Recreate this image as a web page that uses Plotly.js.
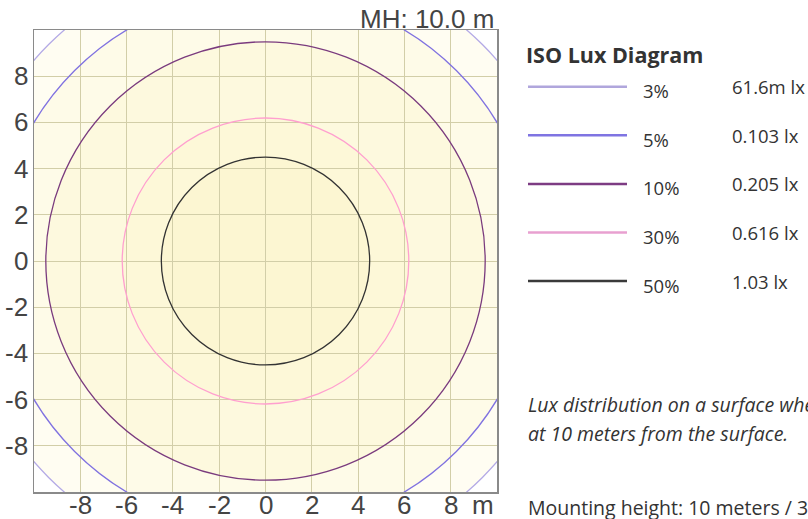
<!DOCTYPE html>
<html>
<head>
<meta charset="utf-8">
<script src="https://cdn.plot.ly/plotly-3.0.1.min.js"></script>
<style>html,body{margin:0;padding:0;background:#fff;}#chart{width:808px;height:519px;}</style>
</head>
<body>
<div id="chart"></div>
<script>
// ---- data ----
const levels = ['3%', '5%', '10%', '30%', '50%'];
const luxValues = ['61.6m lx', '0.103 lx', '0.205 lx', '0.616 lx', '1.03 lx'];
const radii = [13.25, 11.66, 9.49, 6.19, 4.5];          // iso-line radius, metres
const lineColors = ['#b4aae6', '#8072e0', '#7a3b7e', '#ff9fcf', '#333333'];
const legendColors = ['#b0a6dc', '#7f74e2', '#7d3c83', '#e8a0d0', '#3a3a3a'];
const bandColors = ['#fffdf2', '#fefbe8', '#fdf9de', '#fdf8d8', '#fcf6d2'];
const tickVals = [-8, -6, -4, -2, 0, 2, 4, 6, 8];
const tickText = ['-8', '-6', '-4', '-2', '0', '2', '4', '6', '8'];
const mountingHeight = 'MH: 10.0 m';
const unitLabel = 'm';
const legendTitle = 'ISO Lux Diagram';
const noteLines = ['Lux distribution on a surface where the luminaire is placed', 'at 10 meters from the surface.'];
const mountText = 'Mounting height: 10 meters / 33 feet';

// ---- layout geometry ----
const W = 808, H = 519;
const L = 34, R = 497, T = 30, B = 492;
const px = x => (x - L) / (R - L);
const py = y => (B - y) / (B - T);
const sideFont = '"Open Sans", Lato, sans-serif';
const axisFont = '"Liberation Sans", Arial, sans-serif';

const shapes = [];
const annotations = [];

// filled bands (drawn below grid)
radii.forEach((r, i) => {
  shapes.push({type: 'circle', xref: 'x', yref: 'y', x0: -r, x1: r, y0: -r, y1: r,
    fillcolor: bandColors[i], line: {width: 0}, layer: 'below'});
});
// iso lines
radii.forEach((r, i) => {
  shapes.push({type: 'circle', xref: 'x', yref: 'y', x0: -r, x1: r, y0: -r, y1: r,
    fillcolor: 'rgba(0,0,0,0)', line: {color: lineColors[i], width: 1.3}, layer: 'above'});
});

// tick labels (placed through the axes' scales)
tickVals.forEach((v, i) => {
  annotations.push({xref: 'x', yref: 'paper', x: v, y: py(505), xanchor: 'center', yanchor: 'middle',
    text: tickText[i], showarrow: false, font: {family: axisFont, size: 26, color: '#444'}});
  annotations.push({xref: 'paper', yref: 'y', x: px(30), y: v, xanchor: 'right', yanchor: 'middle',
    text: tickText[i], showarrow: false, font: {family: axisFont, size: 26, color: '#444'}});
});

// legend
const legY0 = 86.7, legDy = 48.6;
levels.forEach((lv, i) => {
  const y = legY0 + i * legDy;
  shapes.push({type: 'line', xref: 'paper', yref: 'paper', x0: px(528), x1: px(627), y0: py(y), y1: py(y),
    line: {color: legendColors[i], width: 2.5}});
  annotations.push({xref: 'paper', yref: 'paper', x: px(641), y: py(y + 4), xanchor: 'left', yanchor: 'middle',
    text: lv, showarrow: false, font: {family: sideFont, size: 18.5, color: '#333'}});
  annotations.push({xref: 'paper', yref: 'paper', x: px(730), y: py(y), xanchor: 'left', yanchor: 'middle',
    text: luxValues[i], showarrow: false, font: {family: sideFont, size: 18.5, color: '#333'}});
});
annotations.push({xref: 'paper', yref: 'paper', x: px(524), y: py(54), xanchor: 'left', yanchor: 'middle',
  text: '<b>' + legendTitle + '</b>', showarrow: false, font: {family: sideFont, size: 21.5, color: '#333'}});
noteLines.forEach((t, i) => {
  annotations.push({xref: 'paper', yref: 'paper', x: px(526), y: py(404 + i * 29), xanchor: 'left', yanchor: 'middle',
    text: '<i>' + t + '</i>', showarrow: false, font: {family: sideFont, size: 19.5, color: '#333'}});
});
annotations.push({xref: 'paper', yref: 'paper', x: px(526), y: py(508), xanchor: 'left', yanchor: 'middle',
  text: mountText, showarrow: false, font: {family: sideFont, size: 19.5, color: '#333'}});
// MH label
annotations.push({xref: 'paper', yref: 'paper', x: px(496), y: py(19), xanchor: 'right', yanchor: 'middle',
  text: mountingHeight, showarrow: false, font: {family: axisFont, size: 26, color: '#444'}});
// unit label at axis end
annotations.push({xref: 'paper', yref: 'paper', x: px(483), y: py(505), xanchor: 'center', yanchor: 'middle',
  text: unitLabel, showarrow: false, font: {family: axisFont, size: 26, color: '#444'}});

const axisCommon = {
  range: [-10, 10], tickvals: tickVals, showticklabels: false, showgrid: true, gridcolor: '#d2cea8', gridwidth: 1,
  zeroline: false, showline: true, linecolor: '#8a8a8a', linewidth: 1.5, mirror: true, ticks: '', fixedrange: true
};

const layout = {
  width: W, height: H,
  margin: {l: L, r: W - R, t: T, b: H - B, pad: 0},
  paper_bgcolor: '#ffffff', plot_bgcolor: '#ffffff',
  showlegend: false,
  xaxis: Object.assign({}, axisCommon),
  yaxis: Object.assign({}, axisCommon),
  shapes: shapes, annotations: annotations
};

const traces = [{x: [0], y: [0], mode: 'markers', marker: {opacity: 0}, hoverinfo: 'skip', type: 'scatter'}];

Plotly.newPlot('chart', traces, layout, {displayModeBar: false, staticPlot: true});
</script>
</body>
</html>
